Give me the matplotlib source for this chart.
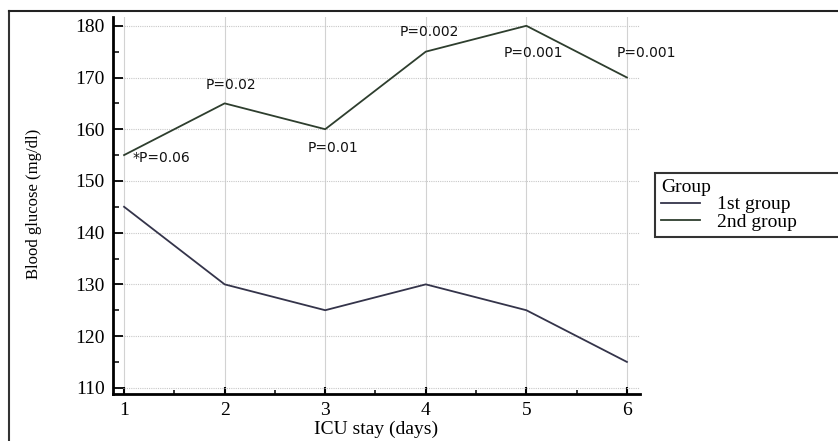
import numpy as np
import matplotlib.pyplot as plt
from matplotlib.lines import Line2D
from matplotlib.ticker import MultipleLocator

# ---------------- data ----------------
days = [1, 2, 3, 4, 5, 6]
group1 = [145, 130, 125, 130, 125, 115]
group2 = [155, 165, 160, 175, 180, 170]
p_labels = ["*P=0.06", "P=0.02", "P=0.01", "P=0.002", "P=0.001", "P=0.001"]
# label anchor (x, y) in data units
p_x = [1.08, 2.06, 3.08, 4.04, 5.07, 6.19]
p_y = [154.5, 168.6, 156.4, 178.8, 174.8, 174.8]

serif = 'Liberation Serif'

fig = plt.figure(figsize=(8.38, 4.41), dpi=100)
ax = fig.add_axes([113 / 838, 47 / 441, (640 - 113) / 838, (424 - 47) / 441])

ax.plot(days, group1, color='#34344a', lw=1.3, label='1st group')
ax.plot(days, group2, color='#2e3e2e', lw=1.3, label='2nd group')

# p-value annotations
for i in range(len(days)):
    ha = 'left' if i == 0 else 'center'
    ax.text(p_x[i], p_y[i], p_labels[i], ha=ha, va='center',
            fontsize=10, family='DejaVu Sans', color='#111111')

ax.set_xlim(0.89, 6.13)
ax.set_ylim(108.8, 181.7)
ax.xaxis.set_major_locator(MultipleLocator(1))
ax.xaxis.set_minor_locator(MultipleLocator(0.5))
ax.yaxis.set_major_locator(MultipleLocator(10))
ax.yaxis.set_minor_locator(MultipleLocator(5))

ax.grid(axis='x', which='major', color='#d2d2d2', lw=0.8, ls='-')
ax.grid(axis='y', which='major', color='#c8c8c8', lw=0.8, ls=(0, (1, 1)))
ax.set_axisbelow(True)

for s in ['top', 'right']:
    ax.spines[s].set_visible(False)
for s in ['left', 'bottom']:
    ax.spines[s].set_linewidth(2)
    ax.spines[s].set_color('black')

ax.tick_params(axis='y', which='major', direction='in', length=7, width=1.3, pad=6)
ax.tick_params(axis='y', which='minor', direction='in', length=4, width=1.1)
ax.tick_params(axis='x', which='major', direction='in', length=5, width=1.5, pad=6)
ax.tick_params(axis='x', which='minor', direction='in', length=3, width=1.1)
for lab in ax.get_xticklabels() + ax.get_yticklabels():
    lab.set_family(serif)
    lab.set_fontsize(14)

ax.set_xlabel('ICU stay (days)', family=serif, fontsize=14, labelpad=1)
ax.set_ylabel('Blood glucose (mg/dl)', family=serif, fontsize=12)
ax.yaxis.set_label_coords(42 / 838, (441 - 204) / 441, transform=fig.transFigure)

leg = fig.legend(loc='upper left',
                 bbox_to_anchor=(655 / 838, 1 - 240 / 441, 190 / 838, 67 / 441),
                 mode='expand', title='Group', alignment='left', fancybox=False,
                 edgecolor='black', borderaxespad=0, handlelength=2.0,
                 handletextpad=0.9, labelspacing=0.0, borderpad=0.3,
                 prop={'family': serif, 'size': 14},
                 title_fontproperties={'family': serif, 'size': 14})
leg.get_frame().set_linewidth(1.5)

# outer border (left and top only)
fig.add_artist(Line2D([8.5 / 838, 8.5 / 838], [0, 1 - 10.5 / 441],
                      transform=fig.transFigure, color='#333333', lw=1.5))
fig.add_artist(Line2D([8.5 / 838, 1], [1 - 10.5 / 441, 1 - 10.5 / 441],
                      transform=fig.transFigure, color='#222222', lw=1.5))

fig.savefig('out.png', dpi=100)
